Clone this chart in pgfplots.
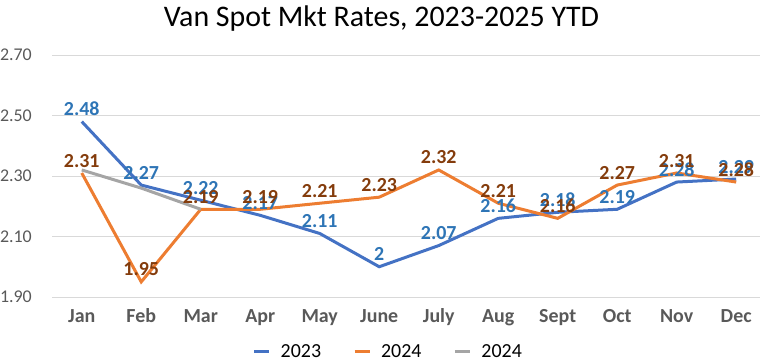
\documentclass[border=0pt]{standalone}
\usepackage{pgfplots}
\pgfplotsset{compat=1.18}
\usepackage{fontspec}
\setmainfont{Carlito}
\definecolor{cBlue}{HTML}{4472C4}
\definecolor{cOrange}{HTML}{ED7D31}
\definecolor{cGray}{HTML}{A5A5A5}
\definecolor{lBlue}{HTML}{2E75B6}
\definecolor{lBrown}{HTML}{843C0C}
\definecolor{tickc}{HTML}{595959}
\definecolor{gridc}{HTML}{D9D9D9}
\begin{document}
\begin{tikzpicture}
\useasboundingbox (0,0) rectangle (763bp,363bp);
\node[font=\fontsize{30}{34}\selectfont] at (381.5bp,344bp) {Van Spot Mkt Rates, 2023-2025 YTD};
\begin{axis}[
  at={(52bp,66bp)}, anchor=south west,
  scale only axis, width=708bp, height=242bp,
  xmin=-0.5, xmax=11.4, ymin=1.90, ymax=2.70,
  ytick={1.90,2.10,2.30,2.50,2.70},
  xtick={0,...,11},
  xticklabels={Jan,Feb,Mar,Apr,May,June,July,Aug,Sept,Oct,Nov,Dec},
  axis line style={draw=none},
  major tick length=0pt,
  xmajorgrids=false, ymajorgrids=true, grid style={gridc, line width=1bp},
  /pgf/number format/assume math mode=true,
  yticklabel={\pgfmathprintnumber[fixed,fixed zerofill,precision=2]{\tick}},
  yticklabel style={font=\fontsize{18}{20}\selectfont, text=tickc, anchor=east, inner sep=0pt, xshift=-20bp},
  xticklabel style={font=\fontsize{20}{22}\selectfont\bfseries, text=tickc, anchor=base, inner sep=0pt, yshift=-25bp},
  legend columns=3,
  legend style={draw=none, at={(0.475,-0.227)}, anchor=center, font=\fontsize{20}{22}\selectfont,
    /tikz/every odd column/.append style={column sep=8bp},
    /tikz/every even column/.append style={column sep=30bp}},
  legend image code/.code={\draw[#1, line width=3bp] (0bp,0bp) -- (15bp,0bp);},
  clip=false,
]
\addplot[cBlue, line width=3bp, nodes near coords, point meta=explicit symbolic,
  every node near coord/.append style={font=\fontsize{20}{22}\selectfont\bfseries, text=lBlue, yshift=1bp}]
  table[meta=l] {
x y l
0 2.48 2.48
1 2.27 2.27
2 2.22 2.22
3 2.17 2.17
4 2.11 2.11
5 2.00 2
6 2.07 2.07
7 2.16 2.16
8 2.18 2.18
9 2.19 2.19
10 2.28 2.28
11 2.29 2.29
};
\addlegendentry{2023}
\addplot[cOrange, line width=3bp, nodes near coords, point meta=explicit symbolic,
  every node near coord/.append style={font=\fontsize{20}{22}\selectfont\bfseries, text=lBrown, yshift=1bp}]
  table[meta=l] {
x y l
0 2.31 2.31
1 1.95 1.95
2 2.19 2.19
3 2.19 2.19
4 2.21 2.21
5 2.23 2.23
6 2.32 2.32
7 2.21 2.21
8 2.16 2.16
9 2.27 2.27
10 2.31 2.31
11 2.28 2.28
};
\addlegendentry{2024}
\addplot[cGray, line width=3bp] table {
x y
0 2.32
1 2.26
2 2.19
};
\addlegendentry{2024}
\end{axis}
\end{tikzpicture}
\end{document}
